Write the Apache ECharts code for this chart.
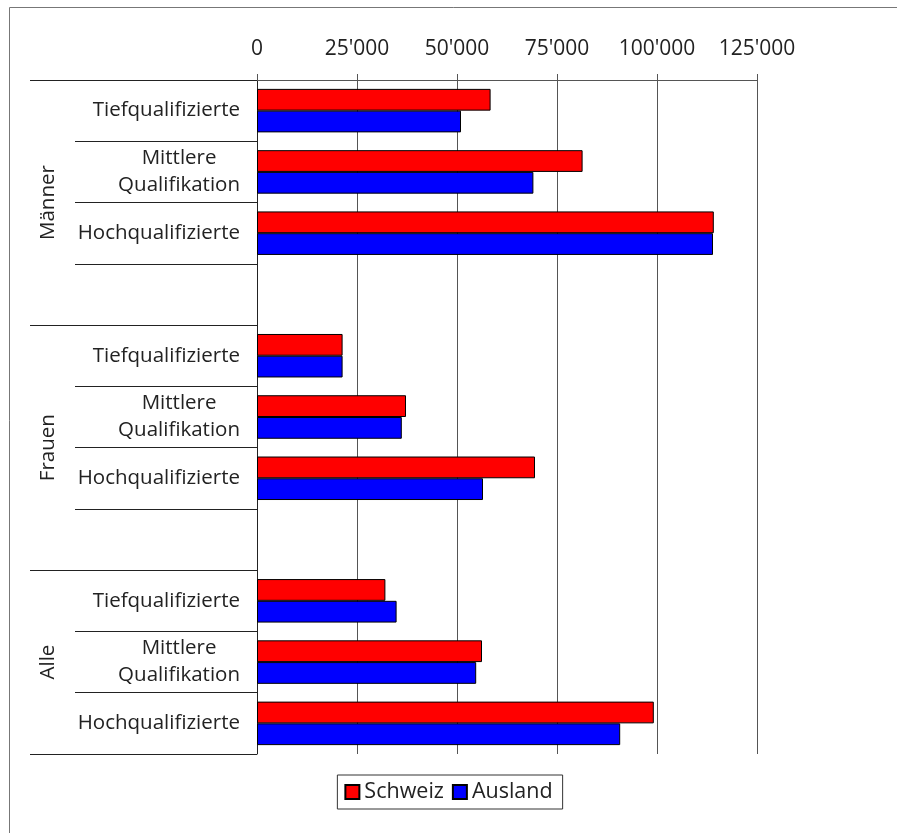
<!DOCTYPE html>
<html>
<head>
<meta charset="utf-8">
<script src="https://cdn.jsdelivr.net/npm/echarts@6/dist/echarts.min.js"></script>
<style>
html,body{margin:0;padding:0;background:#fff;}
#c{width:897px;height:833px;}
</style>
</head>
<body>
<div id="c"></div>
<script>
// ---- data ----
var groups = ['Männer', 'Frauen', 'Alle'];
var subCategories = ['Tiefqualifizierte', 'Mittlere\nQualifikation', 'Hochqualifizierte'];
var seriesNames = ['Schweiz', 'Ausland'];
var maennerSchweiz = [58400, 81400, 114200];
var maennerAusland = [51000, 69100, 114000];
var frauenSchweiz = [21400, 37250, 69500];
var frauenAusland = [21400, 36200, 56500];
var alleSchweiz = [32100, 56250, 99200];
var alleAusland = [34900, 54800, 90800];
var xTicks = [0, 25000, 50000, 75000, 100000, 125000];

// ---- build rows (with empty spacer rows between groups) ----
var rows = [];
var schweiz = [];
var ausland = [];
var schweizGroups = [maennerSchweiz, frauenSchweiz, alleSchweiz];
var auslandGroups = [maennerAusland, frauenAusland, alleAusland];
groups.forEach(function (g, gi) {
  subCategories.forEach(function (s, si) {
    rows.push(g + '|' + s);
    schweiz.push(schweizGroups[gi][si]);
    ausland.push(auslandGroups[gi][si]);
  });
  if (gi < groups.length - 1) {
    rows.push(g + '|');
    schweiz.push('-');
    ausland.push('-');
  }
});

// group axis: half-row positions (boundaryGap false), 2*rows+1 slots
var halfSlots = [];
for (var i = 0; i <= rows.length * 2; i++) halfSlots.push('h' + i);
var groupLabelPos = {};
var groupBoundaries = {};
var start = 0;
groups.forEach(function (g, gi) {
  var len = subCategories.length + (gi < groups.length - 1 ? 1 : 0);
  groupBoundaries[start * 2] = true;
  var centerHalf = gi < groups.length - 1 ? (start * 2 + len) : (start * 2 + subCategories.length);
  groupLabelPos[centerHalf] = g;
  start += len;
});
groupBoundaries[rows.length * 2] = true;

function fmtNum(v) {
  return String(v).replace(/\B(?=(\d{3})+(?!\d))/g, "'");
}

var FONT = 'Open Sans';
var TXT = '#222';
var LBL = 20.5;
var chart = echarts.init(document.getElementById('c'), null, {renderer: 'canvas'});
chart.setOption({
  animation: false,
  backgroundColor: '#fff',
  textStyle: {fontFamily: FONT},
  graphic: [{
    type: 'rect',
    left: 7, top: 5,
    shape: {width: 1000, height: 1000},
    style: {fill: 'none', stroke: '#777', lineWidth: 1},
    silent: true
  }],
  grid: {left: 257, right: 140, top: 80, bottom: 79, containLabel: false},
  legend: {
    data: seriesNames,
    bottom: 24,
    left: 'center',
    icon: 'rect',
    itemWidth: 14,
    itemHeight: 14,
    itemGap: 8,
    padding: [6, 10, 6, 7],
    borderColor: '#333',
    borderWidth: 1,
    textStyle: {fontFamily: FONT, fontSize: 21.5, color: TXT}
  },
  xAxis: {
    type: 'value',
    position: 'top',
    min: xTicks[0],
    max: xTicks[xTicks.length - 1],
    interval: xTicks[1] - xTicks[0],
    axisLine: {show: true, lineStyle: {color: '#555', width: 1}},
    axisTick: {show: true, length: 6, inside: false, lineStyle: {color: '#555'}},
    splitLine: {show: true, lineStyle: {color: '#555', width: 1}},
    axisLabel: {
      margin: 20,
      fontFamily: FONT, fontSize: 21, color: TXT,
      formatter: fmtNum
    }
  },
  yAxis: [{
    type: 'category',
    data: rows,
    inverse: true,
    position: 'left',
    axisLine: {show: true, onZero: false, lineStyle: {color: '#222', width: 1}},
    axisTick: {
      show: true,
      length: 182,
      interval: function (idx) { return idx % (subCategories.length + 1) !== 0; },
      lineStyle: {color: '#222', width: 1}
    },
    axisLabel: {
      interval: 0,
      margin: 17,
      fontFamily: FONT, fontSize: LBL, color: TXT,
      lineHeight: 27,
      align: 'right',
      formatter: function (v) {
        var s = v.split('|')[1];
        if (s.indexOf('\n') >= 0) {
          return s.split('\n').map(function (p) { return '{c|' + p + '}'; }).join('\n');
        }
        return s;
      },
      rich: {
        c: {align: 'center', fontFamily: FONT, fontSize: LBL, color: TXT, lineHeight: 27}
      }
    }
  }, {
    type: 'category',
    data: halfSlots,
    inverse: true,
    boundaryGap: false,
    position: 'left',
    axisLine: {show: false},
    axisTick: {
      show: true,
      length: 227,
      interval: function (idx) { return !!groupBoundaries[idx]; },
      lineStyle: {color: '#222', width: 1}
    },
    axisLabel: {
      interval: 0,
      rotate: 90,
      margin: 198,
      fontFamily: FONT, fontSize: LBL, color: TXT,
      formatter: function (v) {
        var k = parseInt(v.slice(1), 10);
        return groupLabelPos[k] || '';
      }
    },
    splitLine: {show: false}
  }],
  series: [{
    name: seriesNames[0],
    type: 'bar',
    yAxisIndex: 0,
    data: schweiz,
    barGap: '0%',
    barCategoryGap: '29%',
    itemStyle: {color: '#ff0000', borderColor: '#000', borderWidth: 1}
  }, {
    name: seriesNames[1],
    type: 'bar',
    yAxisIndex: 0,
    data: ausland,
    barGap: '0%',
    barCategoryGap: '29%',
    itemStyle: {color: '#0000ff', borderColor: '#000', borderWidth: 1}
  }]
});
</script>
</body>
</html>
